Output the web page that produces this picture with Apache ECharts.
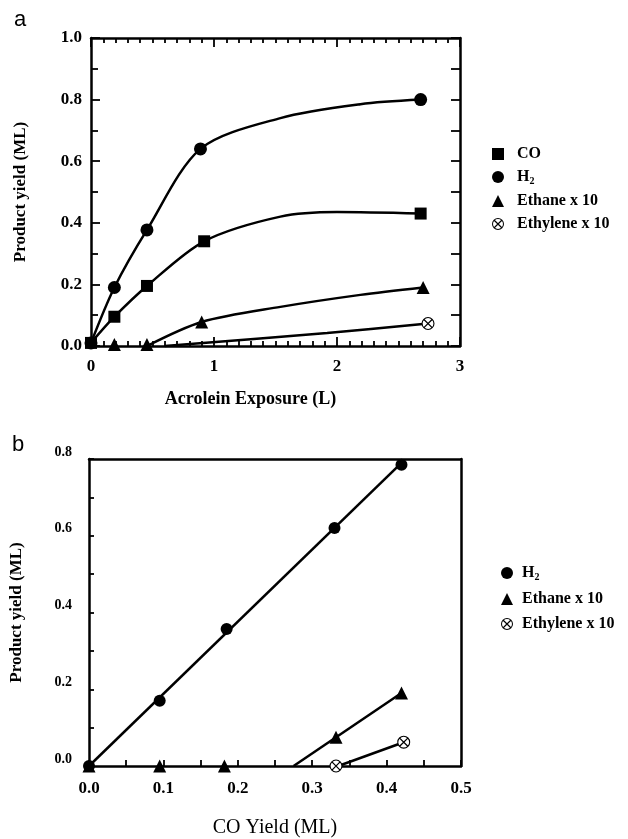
<!DOCTYPE html>
<html>
<head>
<meta charset="utf-8">
<script src="https://cdn.jsdelivr.net/npm/echarts@6/dist/echarts.min.js"></script>
<style>
  html, body { margin: 0; padding: 0; background: #fff; }
  #chart { width: 628px; height: 839px; }
</style>
</head>
<body>
<div id="chart"></div>
<script>
// panel a: product yield vs acrolein exposure (L) -- measured points
const coA = [[0, 0.01], [0.19, 0.095], [0.455, 0.195], [0.92, 0.34], [2.68, 0.43]];
const h2A = [[0, 0.01], [0.19, 0.19], [0.455, 0.377], [0.89, 0.64], [2.68, 0.80]];
const ethaneA = [[0.19, 0.005], [0.455, 0.005], [0.9, 0.078], [2.7, 0.19]];
const ethyleneA = [[2.74, 0.073]];
// panel a: hand-drawn curves
const coCurveA = [[0, 0.01], [0.19, 0.095], [0.455, 0.195], [0.92, 0.34], [1.54, 0.42], [2.0, 0.435], [2.68, 0.43]];
const h2CurveA = [[0, 0.01], [0.19, 0.19], [0.455, 0.377], [0.89, 0.64], [1.54, 0.74], [2.19, 0.785], [2.68, 0.80]];
const ethaneCurveA = [[0.455, 0.0], [0.9, 0.078], [1.54, 0.127], [2.19, 0.166], [2.7, 0.19]];
const ethyleneCurveA = [[0.6, 0.0], [1.92, 0.042], [2.74, 0.073]];

// panel b: product yield vs CO yield (ML)
const h2B = [[0, 0], [0.095, 0.17], [0.185, 0.357], [0.33, 0.62], [0.42, 0.785]];
const h2FitB = [[0, 0], [0.42, 0.79]];
const ethaneB = [[0, 0], [0.095, 0.0], [0.182, 0.0], [0.332, 0.075], [0.42, 0.19]];
const ethaneFitB = [[0.275, 0], [0.42, 0.19]];
const ethyleneB = [[0.332, 0.0], [0.423, 0.062]];
const ethyleneFitB = [[0.335, 0], [0.423, 0.062]];

const SERIF = '"Liberation Serif", "Times New Roman", serif';
// open circle with an x inside
const CROSS_CIRCLE = 'path://M0,-10 A10,10 0 1,1 0,10 A10,10 0 1,1 0,-10 Z ' +
  'M0,-8.3 A8.3,8.3 0 1,0 0,8.3 A8.3,8.3 0 1,0 0,-8.3 Z ' +
  'M-5.2,-6.6 L6.6,5.2 L5.2,6.6 L-6.6,-5.2 Z M5.2,-6.6 L6.6,-5.2 L-5.2,6.6 L-6.6,5.2 Z';

const chart = echarts.init(document.getElementById('chart'), null, { renderer: 'canvas' });

const axisLine = { show: true, onZero: false, lineStyle: { color: '#000', width: 2.5 } };
const tickStyle = { color: '#000', width: 1.8 };

function xAxisDef(grid, pos, min, max, interval, labels, minorSplit, tickLen, minorLen, fmt, margin, name, nameGap, namePad, nameBold, nameSize) {
  return {
    type: 'value', gridIndex: grid, position: pos, min: min, max: max, interval: interval,
    axisLine: axisLine,
    axisTick: { show: tickLen > 0, inside: true, length: tickLen, lineStyle: tickStyle },
    minorTick: { show: minorLen > 0, splitNumber: minorSplit, length: minorLen, lineStyle: tickStyle },
    splitLine: { show: false },
    axisLabel: { show: labels, formatter: fmt, margin: margin, color: '#000', fontFamily: SERIF, fontWeight: 'bold', fontSize: 17 },
    name: name, nameLocation: 'middle', nameGap: nameGap,
    nameTextStyle: { color: '#000', fontFamily: SERIF, fontWeight: nameBold ? 'bold' : 'normal', fontSize: nameSize, padding: namePad }
  };
}

function yAxisDef(grid, pos, min, max, interval, labels, minorSplit, tickLen, minorLen, margin, fontSize, name, nameGap, vAlign) {
  return {
    type: 'value', gridIndex: grid, position: pos, min: min, max: max, interval: interval,
    axisLine: axisLine,
    axisTick: { show: tickLen > 0, inside: true, length: tickLen, lineStyle: tickStyle },
    minorTick: { show: minorLen > 0, splitNumber: minorSplit, length: minorLen, lineStyle: tickStyle },
    splitLine: { show: false },
    axisLabel: { show: labels, formatter: v => v.toFixed(1), margin: margin, color: '#000', fontFamily: SERIF, fontWeight: 'bold', fontSize: fontSize, verticalAlign: vAlign },
    name: name, nameLocation: 'middle', nameGap: nameGap,
    nameTextStyle: { color: '#000', fontFamily: SERIF, fontWeight: 'bold', fontSize: 17 }
  };
}

function curve(name, data, xi, yi, smooth) {
  return {
    name: name, type: 'line', xAxisIndex: xi, yAxisIndex: yi, data: data,
    smooth: smooth, showSymbol: false, clip: false, z: 2,
    lineStyle: { color: '#000', width: 2.5 }, emphasis: { disabled: true }, silent: true
  };
}

function points(name, data, xi, yi, symbol, size, z) {
  return {
    name: name, type: 'scatter', xAxisIndex: xi, yAxisIndex: yi, data: data,
    symbol: symbol, symbolSize: size, clip: false, z: z || 4,
    itemStyle: { color: '#000', opacity: 1 }, emphasis: { disabled: true }, silent: true
  };
}

function whiteDisc(data, xi, yi, size) {
  return {
    name: 'bg', type: 'scatter', xAxisIndex: xi, yAxisIndex: yi, data: data,
    symbol: 'circle', symbolSize: size, clip: false, z: 3,
    itemStyle: { color: '#fff', opacity: 1 }, emphasis: { disabled: true }, silent: true
  };
}

function legendText(padLeft) {
  return {
    color: '#000', fontFamily: SERIF, fontWeight: 'bold', fontSize: 16, padding: [0, 0, 0, padLeft],
    rich: {
      m: { color: '#000', fontFamily: SERIF, fontWeight: 'bold', fontSize: 16 },
      s: { color: '#000', fontFamily: SERIF, fontWeight: 'bold', fontSize: 10, verticalAlign: 'bottom', padding: [8, 0, 0, 0] }
    }
  };
}
const legendFmt = name => name === 'H2' ? '{m|H}{s|2}' : '{m|' + name + '}';

chart.setOption({
  animation: false,
  backgroundColor: '#fff',
  grid: [
    { left: 91, top: 38, width: 369, height: 308, show: false },
    { left: 89, top: 459, width: 372, height: 314, show: false }
  ],
  xAxis: [
    xAxisDef(0, 'bottom', 0, 3, 1, true, 10, 9, 5, v => String(v), 12, 'Acrolein Exposure (L)', 44, [0, 50, 0, 0], true, 18),
    xAxisDef(0, 'top', 0, 3, 1, false, 10, 9, 5, null, 8, '', 0, 0, true, 12),
    xAxisDef(1, 'bottom', 0, 0.5, 0.1, true, 2, 6, 6, v => v.toFixed(1), 14, 'CO Yield (ML)', 52, 0, false, 20),
    xAxisDef(1, 'top', 0, 0.5, 0.1, false, 2, 0, 0, null, 8, '', 0, 0, false, 12)
  ],
  yAxis: [
    yAxisDef(0, 'left', 0, 1, 0.2, true, 2, 9, 7, 9, 17, 'Product yield (ML)', 62, 'middle'),
    yAxisDef(0, 'right', 0, 1, 0.2, false, 2, 9, 9, 8, 12, '', 0, 'middle'),
    yAxisDef(1, 'left', 0, 0.8, 0.2, true, 2, 5, 5, 17, 14, 'Product yield (ML)', 64, 'bottom'),
    yAxisDef(1, 'right', 0, 0.8, 0.2, false, 2, 0, 0, 8, 12, '', 0, 'middle')
  ],
  legend: [
    {
      orient: 'vertical', left: 487, top: 141, itemWidth: 12, itemHeight: 12, itemGap: 7,
      selectedMode: false, textStyle: legendText(8), formatter: legendFmt,
      data: ['CO', 'H2', 'Ethane x 10', 'Ethylene x 10']
    },
    {
      orient: 'vertical', left: 496, top: 560, itemWidth: 12, itemHeight: 12, itemGap: 9,
      selectedMode: false, textStyle: legendText(4), formatter: legendFmt,
      data: ['H2', 'Ethane x 10', 'Ethylene x 10']
    }
  ],
  graphic: [
    { type: 'text', left: 14, top: 9, style: { text: 'a', fill: '#000', font: '22px "Liberation Sans", sans-serif' } },
    { type: 'text', left: 12, top: 434, style: { text: 'b', fill: '#000', font: '22px "Liberation Sans", sans-serif' } }
  ],
  series: [
    curve('CO curve', coCurveA, 0, 0, 0.3),
    curve('H2 curve', h2CurveA, 0, 0, 0.3),
    curve('Ethane curve', ethaneCurveA, 0, 0, 0.3),
    curve('Ethylene curve', ethyleneCurveA, 0, 0, 0.3),
    points('H2', h2A, 0, 0, 'circle', 13),
    points('CO', coA, 0, 0, 'rect', 12, 5),
    points('Ethane x 10', ethaneA, 0, 0, 'triangle', 13),
    whiteDisc(ethyleneA, 0, 0, 12),
    points('Ethylene x 10', ethyleneA, 0, 0, CROSS_CIRCLE, 13),

    curve('H2 fit', h2FitB, 2, 2, false),
    curve('Ethane fit', ethaneFitB, 2, 2, false),
    curve('Ethylene fit', ethyleneFitB, 2, 2, false),
    points('H2', h2B, 2, 2, 'circle', 12),
    points('Ethane x 10', ethaneB, 2, 2, 'triangle', 13),
    whiteDisc(ethyleneB, 2, 2, 12),
    points('Ethylene x 10', ethyleneB, 2, 2, CROSS_CIRCLE, 13)
  ]
});
</script>
</body>
</html>
